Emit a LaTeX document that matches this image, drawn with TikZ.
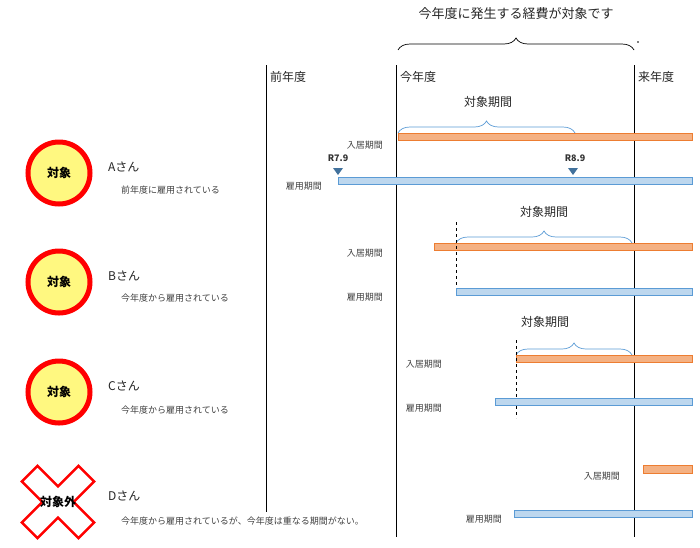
\documentclass[tikz,border=0pt]{standalone}
\usepackage{fontspec}
\setmainfont{Noto Sans CJK JP}
\usetikzlibrary{decorations.pathreplacing}
\definecolor{orbar}{HTML}{F4B183}
\definecolor{oredge}{HTML}{ED7D31}
\definecolor{blbar}{HTML}{BDD7EE}
\definecolor{bledge}{HTML}{5B9BD5}
\definecolor{tri}{HTML}{41719C}
\definecolor{txt}{HTML}{404040}
\begin{document}
\begin{tikzpicture}[x=1pt,y=-1pt,
  yr/.style={line width=1pt,black},
  obar/.style={fill=orbar,draw=oredge,line width=0.8pt},
  bbar/.style={fill=blbar,draw=bledge,line width=0.8pt},
  sm/.style={font=\fontsize{9}{10}\selectfont,text=txt,inner sep=1pt},
  md/.style={font=\fontsize{12}{13}\selectfont,text=black!85,inner sep=1pt},
  bb/.style={decorate,decoration={brace,amplitude=12pt},draw=bledge,line width=0.7pt},
  ok/.style={circle,minimum size=62pt,line width=5pt,draw=red,fill=yellow!50,font=\fontsize{12}{13}\selectfont\bfseries,inner sep=0pt},
  dsh/.style={dashed,line width=0.8pt,black}]
\useasboundingbox (0,0) rectangle (700,547);
% year lines
\coordinate (p1) at (266,65); \coordinate (p2) at (266,512);
\coordinate (t1) at (396,65); \coordinate (t2) at (396,537);
\coordinate (n1) at (634,65); \coordinate (n2) at (634,537);
\draw[yr] (p1)--(p2); \draw[yr] (t1)--(t2); \draw[yr] (n1)--(n2);
\node[md,anchor=west] (lp) at (269,77) {前年度};
\node[md,anchor=west] (lt) at (399,77) {今年度};
\node[md,anchor=west] (ln) at (637,77) {来年度};
% top brace
\coordinate (b1) at (398,50); \coordinate (b2) at (634,50);
\draw[decorate,decoration={brace,amplitude=12pt},line width=0.7pt] (b1)--(b2);
\node[md,font=\fontsize{13}{14}\selectfont] (title) at (516,14) {今年度に発生する経費が対象です};
\fill (638,42) circle (0.9);
% A
\node[ok] (ca) at (59,173) {対象};
\node[md,anchor=west] (na) at (107,167) {Aさん};
\node[sm,anchor=west] (da) at (120,190) {前年度に雇用されている};
\coordinate (ab1) at (398,133); \coordinate (ab2) at (575,133);
\draw[bb] (ab1)--(ab2);
\node[md] (ka) at (488,102) {対象期間};
\draw[obar] (398,133) rectangle (692,140);
\node[sm,anchor=east] (ia) at (384,145) {入居期間};
\node[sm,font=\fontsize{9}{10}\selectfont\bfseries,text=black!80] (r1) at (338,158) {R7.9};
\node[sm,font=\fontsize{9}{10}\selectfont\bfseries,text=black!80] (r2) at (575,158) {R8.9};
\fill[tri] (333,168)--(343,168)--(338,175)--cycle;
\fill[tri] (568,168)--(578,168)--(573,175)--cycle;
\draw[bbar] (338,177) rectangle (692,184);
\node[sm,anchor=east] (ea) at (323,186) {雇用期間};
% B
\node[ok] (cb) at (59,282) {対象};
\node[md,anchor=west] (nb) at (107,276) {Bさん};
\node[sm,anchor=west] (db) at (120,298) {今年度から雇用されている};
\coordinate (bb1) at (456,243); \coordinate (bb2) at (632,243);
\draw[bb] (bb1)--(bb2);
\node[md] (kb) at (544,212) {対象期間};
\draw[obar] (434,243) rectangle (692,250);
\draw[dsh] (456,222)--(456,296);
\node[sm,anchor=east] (ib) at (384,253) {入居期間};
\draw[bbar] (456,288) rectangle (692,295);
\node[sm,anchor=east] (eb) at (384,297) {雇用期間};
% C
\node[ok] (cc) at (59,392) {対象};
\node[md,anchor=west] (nc) at (107,386) {Cさん};
\node[sm,anchor=west] (dc) at (120,410) {今年度から雇用されている};
\coordinate (cb1) at (516,355); \coordinate (cb2) at (632,355);
\draw[bb] (cb1)--(cb2);
\node[md] (kc) at (545,322) {対象期間};
\draw[obar] (516,355) rectangle (692,362);
\draw[dsh] (516,340)--(516,418);
\node[sm,anchor=east] (ic) at (443,364) {入居期間};
\draw[bbar] (495,398) rectangle (692,405);
\node[sm,anchor=east] (ec) at (443,408) {雇用期間};
% D
\begin{scope}[shift={(58,502)},rotate=45]
\draw[red,line width=2.5pt,fill=white,line join=miter]
 (-11,-40)--(11,-40)--(11,-11)--(40,-11)--(40,11)--(11,11)--(11,40)--(-11,40)--(-11,11)--(-40,11)--(-40,-11)--(-11,-11)--cycle;
\end{scope}
\node[font=\fontsize{12}{13}\selectfont\bfseries,inner sep=0pt] (cd) at (58,502) {対象外};
\node[md,anchor=west] (nd) at (107,496) {Dさん};
\node[sm,anchor=west] (dd) at (120,521) {今年度から雇用されているが、今年度は重なる期間がない。};
\draw[obar] (643,465) rectangle (692,473);
\node[sm,anchor=east] (id) at (621,476) {入居期間};
\draw[bbar] (514,510) rectangle (692,517);
\node[sm,anchor=east] (ed) at (503,519) {雇用期間};
\end{tikzpicture}
\end{document}
